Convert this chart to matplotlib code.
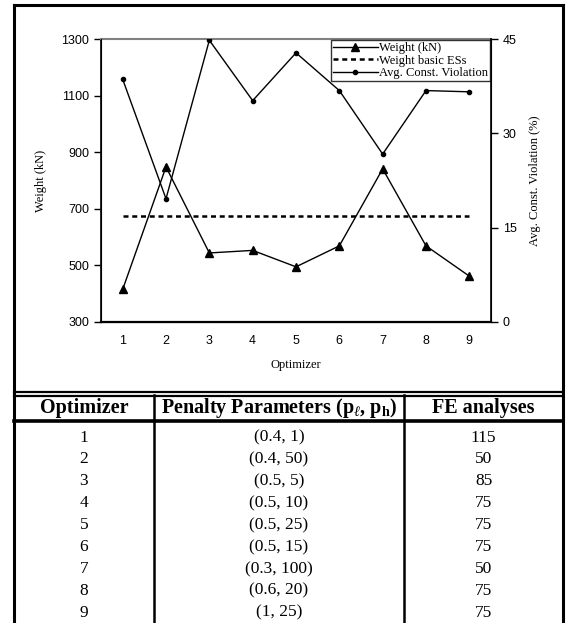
import matplotlib
matplotlib.use('Agg')
import matplotlib.pyplot as plt

# chart data
optimizers = [1, 2, 3, 4, 5, 6, 7, 8, 9]
weight = [415, 848, 544, 553, 495, 569, 841, 569, 462]
weight_basic = [674] * 9
violation = [38.6, 19.6, 44.8, 35.2, 42.8, 36.8, 26.7, 36.8, 36.6]

# table data
col_labels = ['Optimizer', r'Penalty Parameters (p$_{\ell}$, p$_{\mathbf{h}}$)', 'FE analyses']
penalty = ['(0.4, 1)', '(0.4, 50)', '(0.5, 5)', '(0.5, 10)', '(0.5, 25)',
           '(0.5, 15)', '(0.3, 100)', '(0.6, 20)', '(1, 25)']
fe_analyses = [115, 50, 85, 75, 75, 75, 50, 75, 75]

plt.rcParams['mathtext.fontset'] = 'custom'
plt.rcParams['mathtext.rm'] = 'Liberation Serif'
plt.rcParams['mathtext.it'] = 'Liberation Serif:italic'
plt.rcParams['mathtext.bf'] = 'Liberation Serif:bold'

W, H = 576, 623
fig = plt.figure(figsize=(W / 100, H / 100), dpi=100)

# background axes in pixel coords for the frame and the table
bg = fig.add_axes([0, 0, 1, 1])
bg.set_xlim(0, W)
bg.set_ylim(H, 0)
bg.axis('off')

serif = 'Liberation Serif'
sans = 'Liberation Sans'

x_left, x_right = 14, 563
col_x = [x_left, 154, 404, x_right]
bg.plot([x_left, x_left], [5, H], color='black', lw=2.2)
bg.plot([x_right, x_right], [5, H], color='black', lw=2.2)
bg.plot([x_left, x_right], [5, 5], color='black', lw=2.2)
bg.plot([x_left, x_right], [391.5, 391.5], color='black', lw=1.6)
bg.plot([x_left, x_right], [395.5, 395.5], color='black', lw=1.6)
bg.plot([x_left, x_right], [421, 421], color='black', lw=2.6)
for cx in col_x[1:3]:
    bg.plot([cx, cx], [395, H], color='black', lw=1.8)

centers = [(col_x[i] + col_x[i + 1]) / 2 for i in range(3)]
for c, lab in zip(centers, col_labels):
    bg.text(c, 408, lab, ha='center', va='center', family=serif,
            fontweight='bold', fontsize=14.5)
for i in range(len(optimizers)):
    y = 437.5 + i * 21.9
    bg.text(centers[0], y, str(optimizers[i]), ha='center', va='center', family=serif, fontsize=12.5)
    bg.text(centers[1], y, penalty[i], ha='center', va='center', family=serif, fontsize=12.5)
    bg.text(centers[2], y, str(fe_analyses[i]), ha='center', va='center', family=serif, fontsize=12.5)

# chart
ax = fig.add_axes([101 / W, 1 - 322 / H, (491 - 101) / W, (322 - 39) / H])
ax.plot(optimizers, weight, color='black', lw=1, marker='^', ms=6, label='Weight (kN)')
ax.plot(optimizers, weight_basic, color='black', lw=1.8, ls=(0, (2, 1.5)), label='Weight basic ESs')
ax.set_xlim(0.5, 9.5)
ax.set_ylim(300, 1300)
ax.set_yticks(range(300, 1301, 200))
ax.set_xticks(optimizers)
ax.tick_params(axis='x', length=0, pad=9)
ax.tick_params(axis='y', direction='out', length=5, width=1)
for lab in ax.get_xticklabels() + ax.get_yticklabels():
    lab.set_family(sans)
    lab.set_fontsize(9)
ax.set_xlabel('Optimizer', family=serif, fontsize=9, labelpad=9)
ax.set_ylabel('Weight (kN)', family=serif, fontsize=9, labelpad=10)
ax.spines['top'].set_color('gray')
ax.spines['top'].set_linewidth(1.5)
ax.spines['left'].set_linewidth(1.2)
ax.spines['bottom'].set_linewidth(1.6)

ax2 = ax.twinx()
ax2.plot(optimizers, violation, color='black', lw=1, marker='o', ms=3,
         label='Avg. Const. Violation')
ax2.set_ylim(0, 45)
ax2.set_yticks([0, 15, 30, 45])
ax2.tick_params(axis='y', direction='out', length=5, width=1)
for lab in ax2.get_yticklabels():
    lab.set_family(sans)
    lab.set_fontsize(9)
ax2.set_ylabel('Avg. Const. Violation (%)', family=serif, fontsize=9, labelpad=9)
ax2.spines['top'].set_visible(False)
ax2.spines['right'].set_linewidth(1.2)

handles = ax.get_lines() + ax2.get_lines()
leg = ax2.legend(handles, [h.get_label() for h in handles], loc='upper right',
                 prop={'family': serif, 'size': 9}, frameon=True, fancybox=False,
                 borderpad=0.15, labelspacing=0.05, handlelength=3.6,
                 handletextpad=0.1, borderaxespad=0.1)
leg.get_frame().set_edgecolor('black')
leg.get_frame().set_linewidth(1)

fig.savefig('out.png', dpi=100)
